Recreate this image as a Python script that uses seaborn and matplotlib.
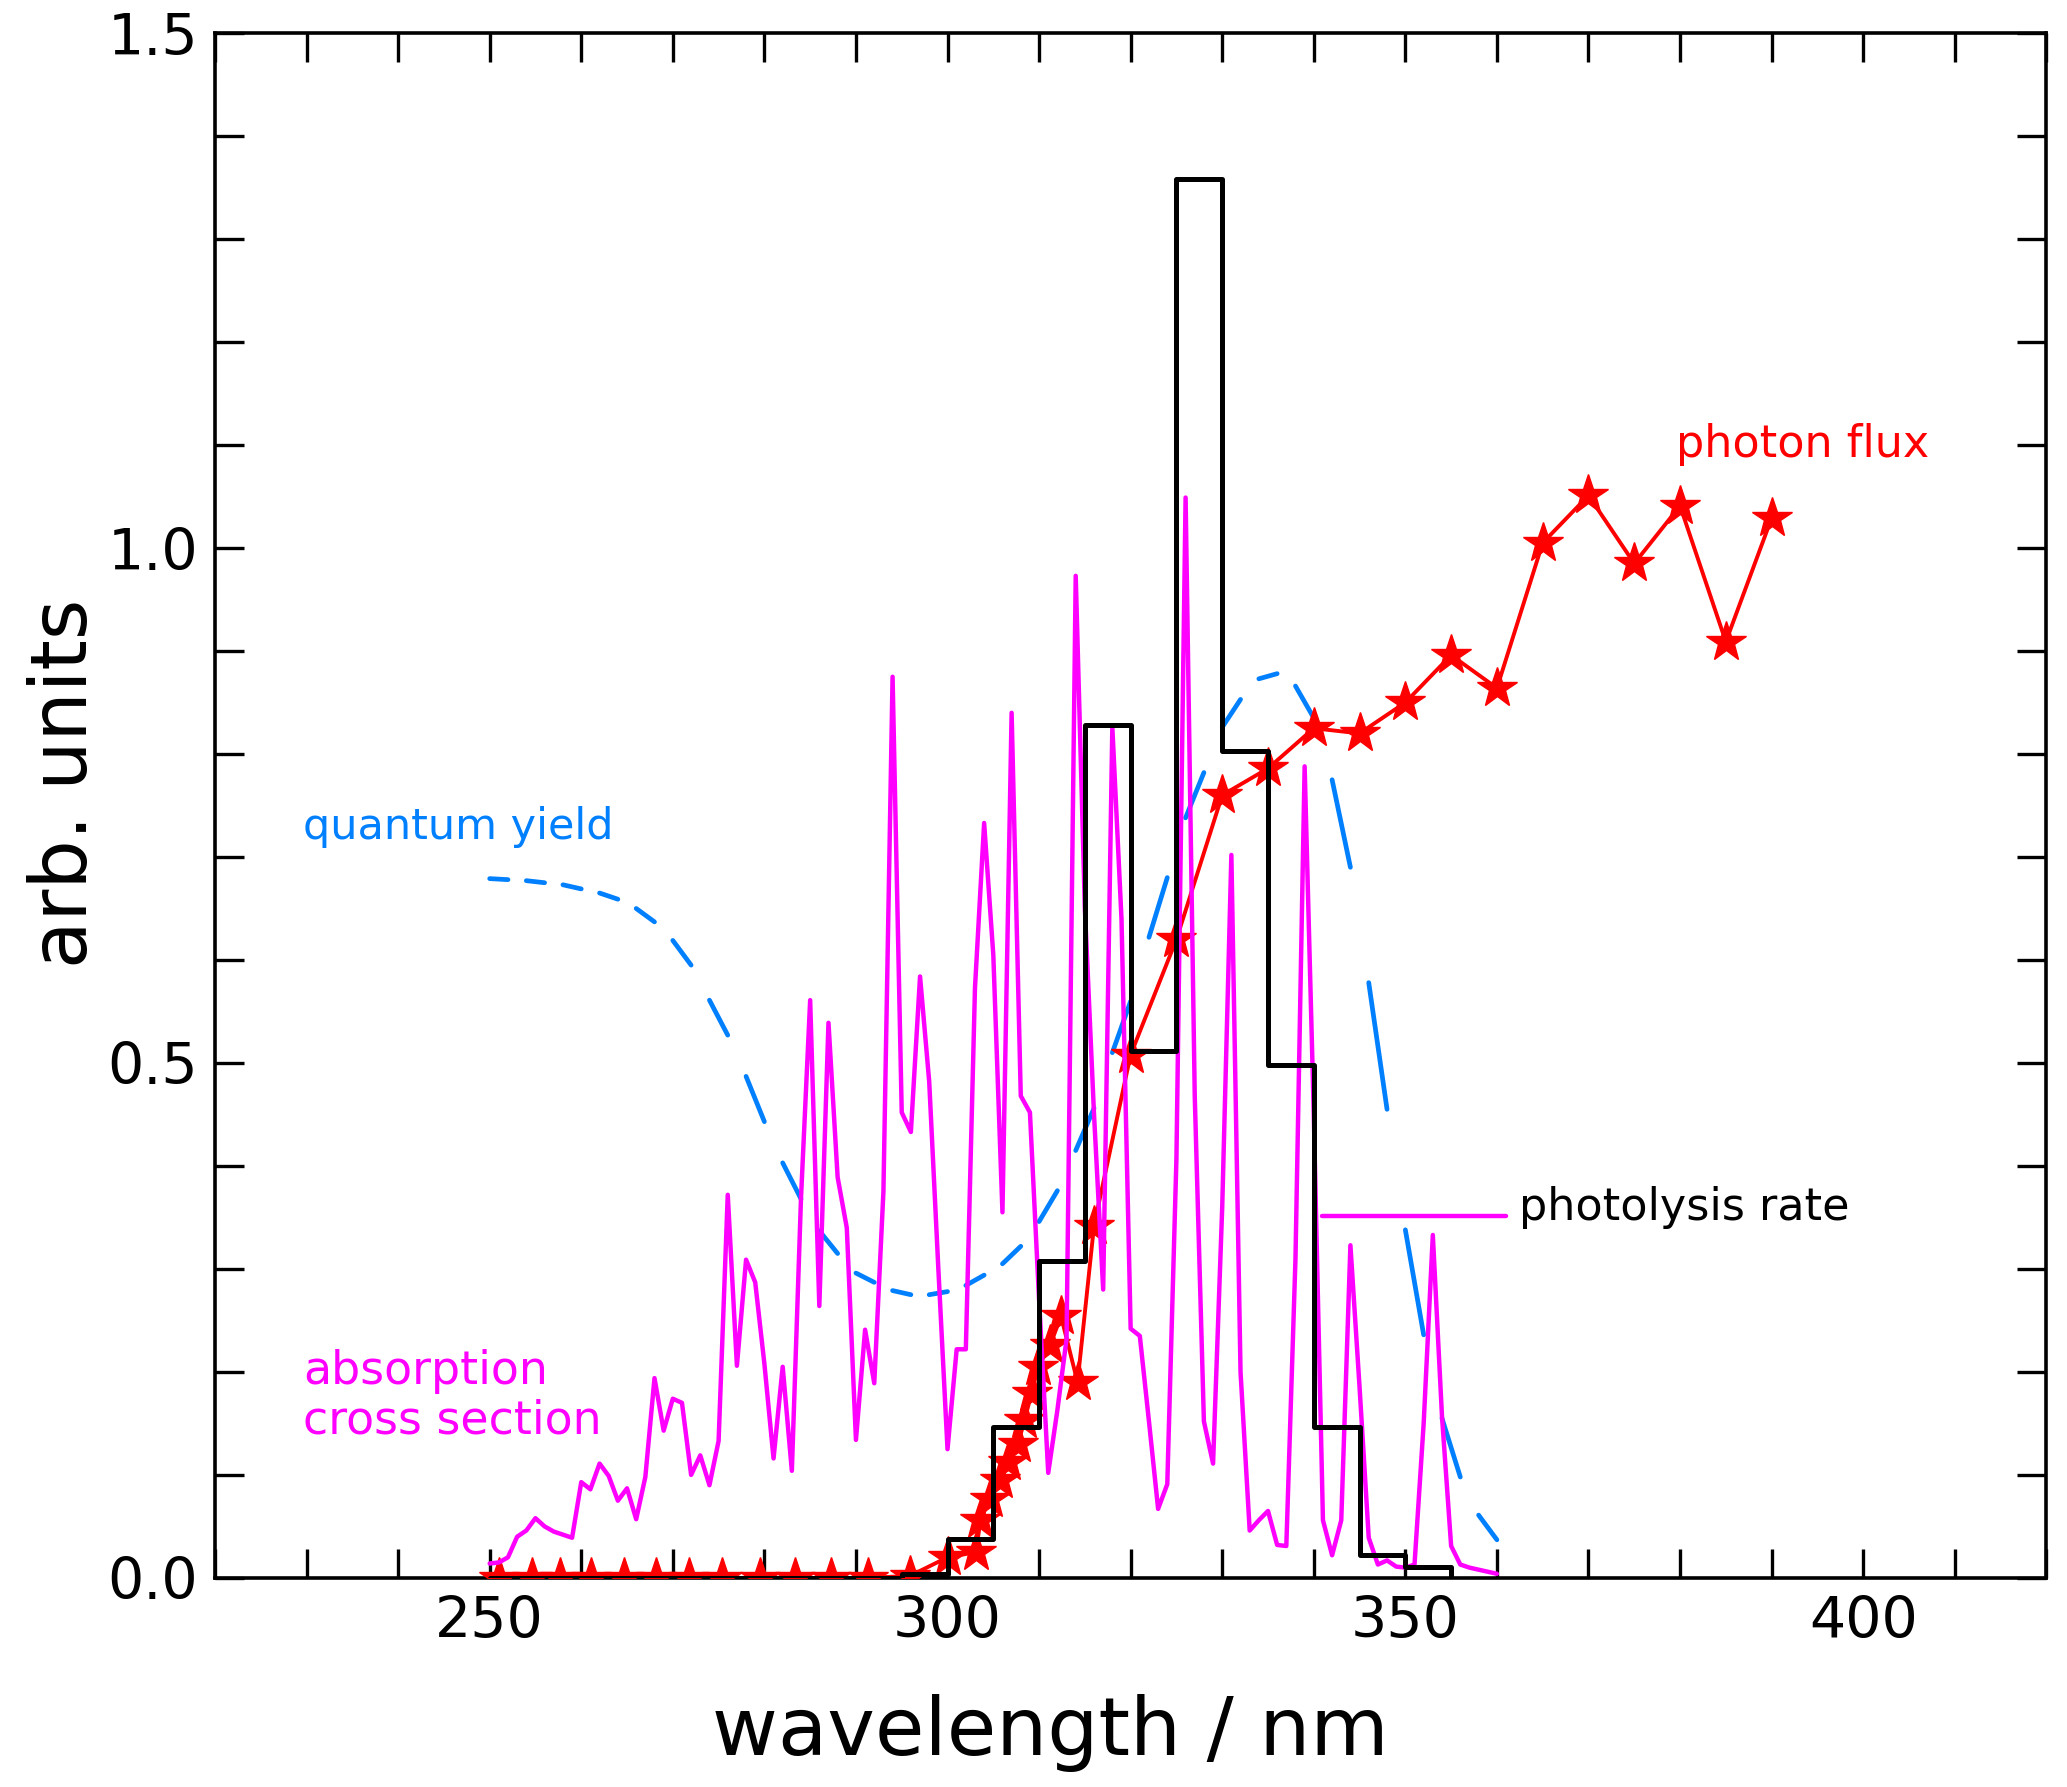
import numpy as np
import pandas as pd
import matplotlib
matplotlib.use("Agg")
import matplotlib.pyplot as plt
from matplotlib.ticker import MultipleLocator, FormatStrFormatter
import seaborn as sns

# absorption cross section, 1 nm grid 250..360
xs_wl = list(range(250, 361))
xs_val = [0.014, 0.015, 0.020, 0.040, 0.046, 0.058, 0.050, 0.045, 0.042, 0.039,
          0.093, 0.086, 0.111, 0.099, 0.075, 0.087, 0.057, 0.098, 0.194, 0.143,
          0.174, 0.170, 0.100, 0.119, 0.090, 0.133, 0.372, 0.206, 0.309, 0.287,
          0.208, 0.116, 0.205, 0.104, 0.369, 0.561, 0.264, 0.539, 0.389, 0.340,
          0.134, 0.241, 0.189, 0.375, 0.875, 0.452, 0.433, 0.584, 0.482, 0.300,
          0.125, 0.222, 0.222, 0.573, 0.733, 0.605, 0.355, 0.840, 0.468, 0.452,
          0.270, 0.102, 0.163, 0.232, 0.973, 0.650, 0.450, 0.280, 0.826, 0.640,
          0.242, 0.235, 0.152, 0.067, 0.091, 0.407, 1.049, 0.468, 0.152, 0.111,
          0.360, 0.702, 0.200, 0.046, 0.056, 0.065, 0.032, 0.031, 0.310, 0.788,
          0.450, 0.056, 0.022, 0.056, 0.323, 0.185, 0.039, 0.013, 0.017, 0.011,
          0.010, 0.013, 0.150, 0.333, 0.157, 0.031, 0.013, 0.010, 0.008, 0.006,
          0.004]

# quantum yield, 2 nm grid 250..360
qy_wl = list(range(250, 361, 2))
qy_val = [0.679, 0.678, 0.677, 0.675, 0.673, 0.669, 0.665, 0.659, 0.650, 0.637,
          0.619, 0.595, 0.561, 0.527, 0.487, 0.443, 0.403, 0.368, 0.337, 0.315,
          0.296, 0.287, 0.279, 0.275, 0.275, 0.278, 0.284, 0.294, 0.305, 0.322,
          0.346, 0.376, 0.415, 0.456, 0.510, 0.560, 0.622, 0.680, 0.738, 0.782,
          0.826, 0.853, 0.873, 0.878, 0.866, 0.835, 0.775, 0.690, 0.578, 0.455,
          0.338, 0.236, 0.155, 0.098, 0.061, 0.037]

# photon flux
flux_wl = [251.0, 254.6, 257.7, 261.1, 264.7, 268.2, 271.8, 275.4, 279.5, 283.3,
           287.3, 291.3, 295.9, 300.0, 303.1, 303.6, 304.6, 305.7, 306.6, 307.7,
           308.4, 309.2, 309.9, 311.2, 312.4, 314.2, 316.0, 320, 325, 330, 335,
           340, 345, 350, 355, 360, 365, 370, 375, 380, 385, 390]
flux_val = [0.0, 0.0, 0.0, 0.0, 0.0, 0.0, 0.0, 0.0, 0.0, 0.0,
            0.0, 0.0, 0.002, 0.020, 0.025, 0.056, 0.077, 0.095, 0.113, 0.130,
            0.153, 0.180, 0.205, 0.226, 0.254, 0.190, 0.342, 0.508, 0.620, 0.760,
            0.786, 0.825, 0.820, 0.850, 0.896, 0.864, 1.005, 1.051, 0.985, 1.041,
            0.909, 1.029]

# photolysis rate (binned)
rate_edges = [250, 295, 300, 305, 310, 315, 320, 325, 330, 335, 340, 345, 350, 355]
rate_val = [0.0, 0.004, 0.038, 0.147, 0.308, 0.828, 0.512, 1.358, 0.803, 0.498,
            0.147, 0.022, 0.011]

# short magenta line next to the photolysis label
marker_line_wl = [340.9, 361.0]
marker_line_val = [0.351, 0.351]

sns.set_style("white")
plt.rcParams['font.family'] = ['DejaVu Sans']
plt.rcParams['text.color'] = 'black'
plt.rcParams['axes.labelcolor'] = 'black'
plt.rcParams['xtick.color'] = 'black'
plt.rcParams['ytick.color'] = 'black'

fig = plt.figure(figsize=(20.67, 17.87), dpi=100)
ax = fig.add_axes([0.104, 0.117, 0.886, 0.8645])

# quantum yield drawn as every other 2 nm segment
seg_rows = []
for i in range(0, len(qy_wl) - 1, 2):
    seg_rows.append({'wl': qy_wl[i], 'qy': qy_val[i], 'seg': i})
    seg_rows.append({'wl': qy_wl[i + 1], 'qy': qy_val[i + 1], 'seg': i})
qy_df = pd.DataFrame(seg_rows)
sns.lineplot(data=qy_df, x='wl', y='qy', units='seg', estimator=None,
             color='#0080ff', linewidth=3.4, ax=ax, zorder=2)

sns.lineplot(x=flux_wl, y=flux_val, color='red', linewidth=2.8, marker='*',
             markersize=30, markeredgecolor='red', markeredgewidth=1,
             ax=ax, zorder=3)

sns.lineplot(x=xs_wl, y=xs_val, color='#ff00ff', linewidth=3.2, ax=ax, zorder=4)
ax.plot(marker_line_wl, marker_line_val, color='#ff00ff', linewidth=3.2, zorder=4)

rate_y = rate_val + [0.0]
sns.lineplot(x=rate_edges, y=rate_y, drawstyle='steps-post', color='black',
             linewidth=3.6, ax=ax, zorder=5)

ax.set_xlim(220, 420)
ax.set_ylim(0, 1.5)
ax.xaxis.set_major_locator(MultipleLocator(50))
ax.xaxis.set_minor_locator(MultipleLocator(10))
ax.yaxis.set_major_locator(MultipleLocator(0.5))
ax.yaxis.set_minor_locator(MultipleLocator(0.1))
ax.yaxis.set_major_formatter(FormatStrFormatter('%.1f'))

for which in ['major', 'minor']:
    ax.tick_params(which=which, direction='in', length=21, width=2.4,
                   top=True, right=True, bottom=True, left=True, color='black')
ax.tick_params(which='major', labelsize=41, pad=12)
for sp in ax.spines.values():
    sp.set_linewidth(2.6)
    sp.set_color('black')

ax.set_xlabel('wavelength / nm', fontsize=58)
ax.set_ylabel('arb. units', fontsize=56)
ax.xaxis.set_label_coords(0.456, -0.075)
ax.yaxis.set_label_coords(-0.061, 0.514)

ax.text(229.6, 0.717, 'quantum yield', color='#0080ff', fontsize=31, va='baseline')
ax.text(379.6, 1.088, 'photon flux', color='red', fontsize=32, va='baseline')
ax.text(362.4, 0.348, 'photolysis rate', color='black', fontsize=32, va='baseline')
ax.text(229.6, 0.188, 'absorption', color='#ff00ff', fontsize=33, va='baseline')
ax.text(229.6, 0.140, 'cross section', color='#ff00ff', fontsize=33, va='baseline')

fig.savefig('out.png', dpi=100)
